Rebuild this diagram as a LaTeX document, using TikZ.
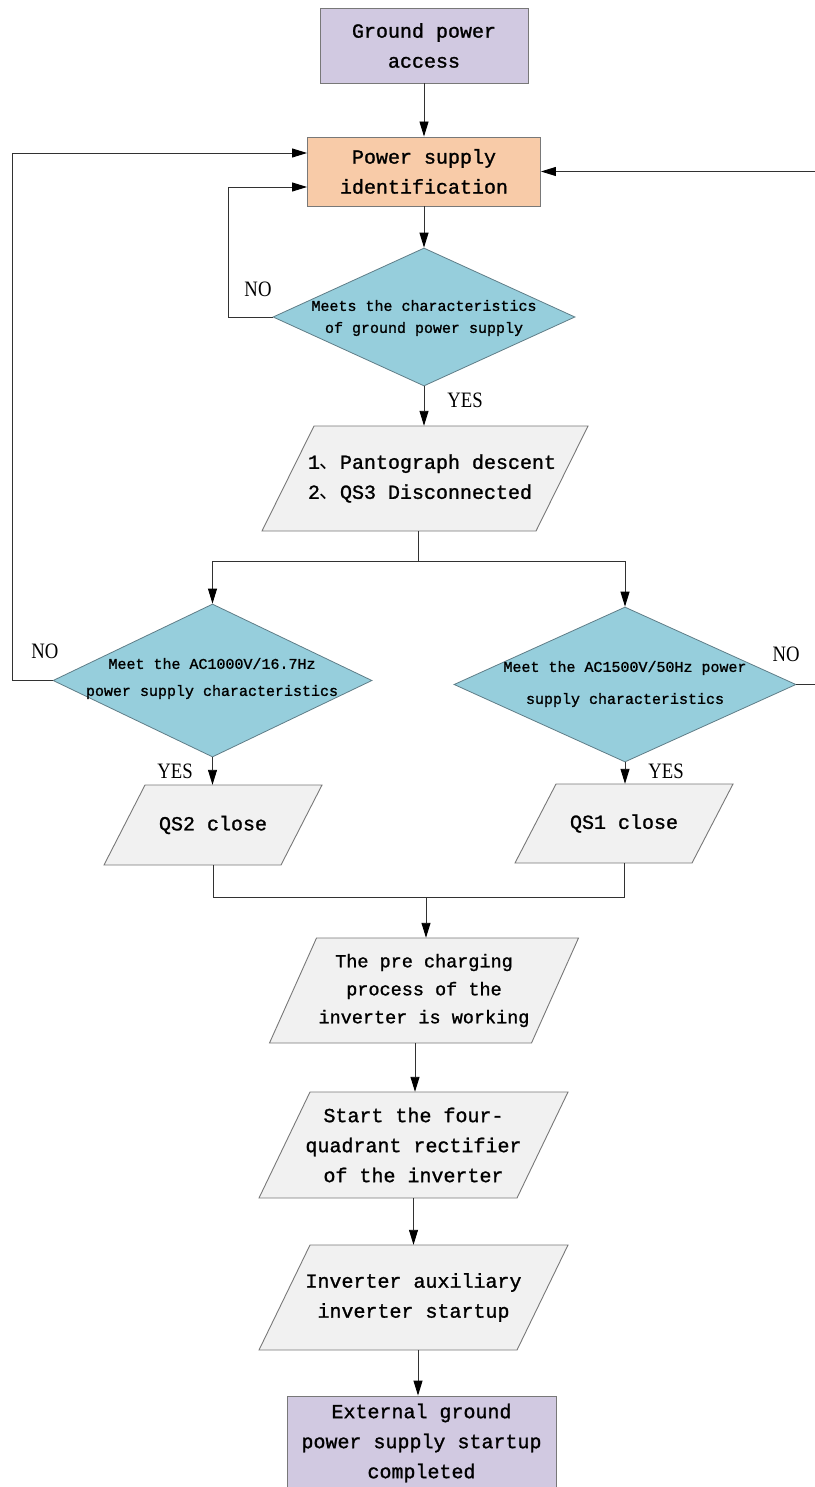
\documentclass[tikz,border=0pt]{standalone}
\usepackage{fontspec}
\setmainfont[FakeBold=1.2]{Liberation Mono}
\newfontfamily\cjk{Noto Sans CJK SC}
\newfontfamily\lblfont[FakeStretch=0.85]{Liberation Serif}
\usetikzlibrary{shapes.geometric,arrows.meta}
\definecolor{lav}{RGB}{209,201,225}
\definecolor{peach}{RGB}{248,203,168}
\definecolor{tealfill}{RGB}{150,206,220}
\definecolor{diab}{RGB}{95,125,135}
\definecolor{pgfill}{RGB}{241,241,241}
\definecolor{bordc}{RGB}{120,120,120}
\definecolor{linec}{RGB}{50,50,50}
\newcommand\pgram[8]{%
  \draw[pgshape] (#2-#4/2+#6/2, #3-#5/2) -- ++(#4,0) -- ++(-#6,#5) -- ++(-#4,0) -- cycle;
  \node[ptext, minimum height=#5pt, #7] (#1) at (#2,#3) {#8};
}
\begin{document}
\begin{tikzpicture}[x=1pt,y=-1pt,
  line/.style={draw=linec, line width=0.9pt},
  arr/.style={line, -{Triangle[length=15pt,width=9pt,color=black]}},
  box/.style={draw=bordc, line width=0.9pt, rectangle, align=center, inner sep=0pt,
    font=\fontsize{20pt}{30pt}\selectfont},
  decision/.style={diamond, draw=diab, fill=tealfill, line width=0.8pt, inner sep=0pt},
  dtext/.style={align=center, inner sep=0pt},
  ptext/.style={rectangle, inner sep=0pt, align=center, font=\fontsize{20pt}{30pt}\selectfont},
  pgshape/.style={draw=bordc, fill=pgfill, line width=0.9pt},
  lbl/.style={font=\lblfont\fontsize{22pt}{22pt}\selectfont, inner sep=0pt}
]
\useasboundingbox (0,0) rectangle (814,1487);
\fill[white] (0,0) rectangle (814,1487);

% boxes
\node[box, fill=lav, minimum width=208pt, minimum height=75pt] (b1) at (424,45.5) {Ground power\\access};
\node[box, fill=peach, minimum width=233pt, minimum height=69pt] (b2) at (424,171.5) {Power supply\\identification};
\node[box, fill=lav, minimum width=269pt, minimum height=94pt] (b3) at (421.5,1443) {External ground\\power supply startup\\completed};

% decisions
\node[decision, minimum width=302pt, minimum height=138pt] (d1) at (424,317) {};
\node[dtext, font=\fontsize{15pt}{22pt}\selectfont] (d1t) at (424,318) {Meets the characteristics\\of ground power supply};
\node[decision, minimum width=319pt, minimum height=153pt] (d2) at (212.5,680.5) {};
\node[dtext, font=\fontsize{15pt}{27pt}\selectfont] (d2t) at (212,678.5) {Meet the AC1000V/16.7Hz\\power supply characteristics};
\node[decision, minimum width=342pt, minimum height=155pt] (d3) at (625,684.5) {};
\node[dtext, font=\fontsize{15pt}{32pt}\selectfont] (d3t) at (625,684) {Meet the AC1500V/50Hz power\\supply characteristics};

% parallelograms
\pgram{p1}{425}{478.5}{274}{105}{52}{align=left, xshift=7pt}{1{\cjk 、}Pantograph descent\\2{\cjk 、}QS3 Disconnected}
\pgram{p2}{213}{825}{177}{80}{41}{}{QS2 close}
\pgram{p3}{624}{823.5}{177}{79}{41}{}{QS1 close}
\pgram{p4}{424}{990.5}{262}{105}{47}{font=\fontsize{18.5pt}{28pt}\selectfont}{The pre charging\\process of the\\inverter is working}
\pgram{p5}{413.5}{1145}{258}{106}{51}{}{Start the four-\\quadrant rectifier\\of the inverter}
\pgram{p6}{413.5}{1297.5}{258}{105}{51}{}{Inverter auxiliary\\inverter startup}

% labels
\node[lbl] (l1) at (258,289) {NO};
\node[lbl] (l2) at (465,400) {YES};
\node[lbl] (l3) at (45,651) {NO};
\node[lbl] (l4) at (786,654) {NO};
\node[lbl] (l5) at (175,771) {YES};
\node[lbl] (l6) at (666,771) {YES};

% connectors
\draw[arr] (b1.south) -- (b2.north);
\draw[arr] (b2.south) -- (d1.north);
\coordinate (lp1) at (228,318);
\draw[arr] (d1.west) -- (d1.west -| lp1) |- ([yshift=-15.5pt]b2.west);
\coordinate (lp2) at (12,0);
\draw[arr] (d2.west) -- (d2.west -| lp2) |- ([yshift=18.5pt]b2.west);
\coordinate (rp) at (816,0);
\draw[arr] (d3.east) -- (d3.east -| rp) |- (b2.east);
\draw[arr] (d1.south) -- (d1.south |- p1.north);
\coordinate (sp) at (418,561);
\draw[line] (sp |- p1.south) -- (sp);
\draw[arr] (sp) -| (d2.north);
\draw[arr] (sp) -| (d3.north);
\draw[arr] (d2.south) -- (d2.south |- p2.north);
\draw[arr] (d3.south) -- (d3.south |- p3.north);
\coordinate (jn) at (426,897);
\draw[line] (p2.south) -- (p2.south |- jn) -- (p3.south |- jn) -- (p3.south);
\draw[arr] (jn) -- (jn |- p4.north);
\coordinate (c45) at (415,0);
\draw[arr] (c45 |- p4.south) -- (c45 |- p5.north);
\draw[arr] (p5.south) -- (p6.north);
\coordinate (c6) at (418,0);
\draw[arr] (c6 |- p6.south) -- (c6 |- b3.north);
\end{tikzpicture}
\end{document}
